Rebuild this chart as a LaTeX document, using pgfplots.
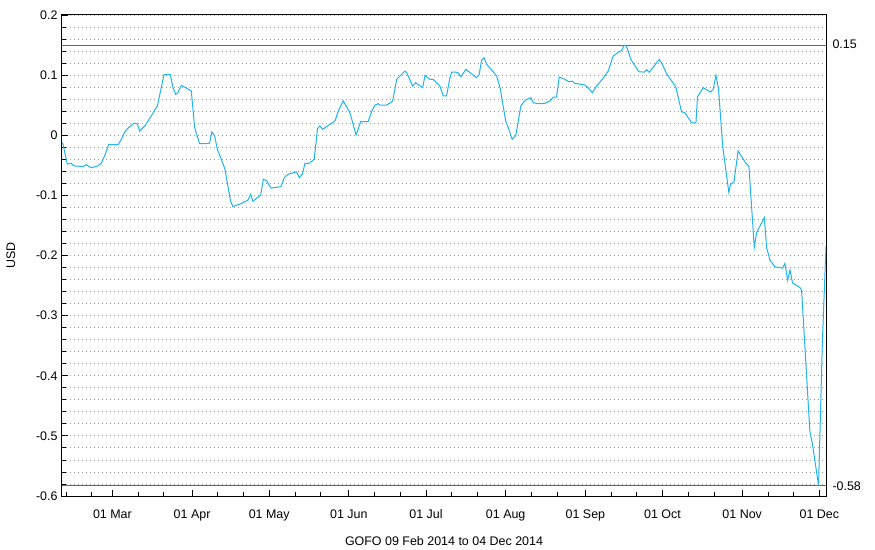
\documentclass[border=0pt]{standalone}
\usepackage{pgfplots}
\pgfplotsset{compat=1.18}
\usepackage{fontspec}
\setmainfont{Liberation Sans}
\definecolor{lineblue}{RGB}{30,180,240}
\definecolor{refpurple}{RGB}{140,70,165}
\begin{document}
\begin{tikzpicture}
\useasboundingbox (-62bp,-54bp) rectangle (813bp,496bp);
\begin{axis}[
  at={(0,0)}, anchor=south west,
  scale only axis, width=764bp, height=481bp,
  xmin=0.4, xmax=297.6, ymin=-0.6, ymax=0.2,
  font=\fontsize{12.5}{14}\selectfont,
  axis line style={line width=1bp},
  tick pos=left, tick align=inside,
  major tick length=6bp, minor tick length=4bp,
  tick style={black, line width=0.8bp},
  xtick={20,51,81,112,142,173,204,234,265,295},
  xticklabels={01 Mar,01 Apr,01 May,01 Jun,01 Jul,01 Aug,01 Sep,01 Oct,01 Nov,01 Dec},
  minor xtick={2,12,30,40,61,71,91,101,122,132,152,162,183,193,214,224,244,254,275,285},
  ytick={-0.6,-0.5,-0.4,-0.3,-0.2,-0.1,0,0.1,0.2},
  yticklabels={-0.6,-0.5,-0.4,-0.3,-0.2,-0.1,0,0.1,0.2},
  minor ytick={-0.58,-0.56,-0.54,-0.52,-0.48,-0.46,-0.44,-0.42,-0.38,-0.36,-0.34,-0.32,-0.28,-0.26,-0.24,-0.22,-0.18,-0.16,-0.14,-0.12,-0.08,-0.06,-0.04,-0.02,0.02,0.04,0.06,0.08,0.12,0.14,0.16,0.18},
  ymajorgrids, yminorgrids,
  major grid style={gray!80, line width=0.8bp, dash pattern=on 1bp off 3bp},
  minor grid style={gray!80, line width=0.8bp, dash pattern=on 1bp off 3bp},
  xticklabel style={yshift=-10bp},
  yticklabel style={xshift=-1bp},
  xlabel={GOFO 09 Feb 2014 to 04 Dec 2014},
  xlabel style={yshift=-9bp},
  ylabel={USD},
  ylabel style={yshift=14bp},
  clip mode=individual,
]
\addplot[refpurple, line width=1bp] coordinates {(0.4,0.15) (297.6,0.15)};
\addplot[refpurple, line width=1bp] coordinates {(0.4,-0.5826) (297.6,-0.5826)};
\addplot[lineblue, line width=1bp] coordinates {
(0.4,-0.012) (0.8,-0.015) (2.45,-0.048) (3.8,-0.0465) (5.1,-0.051) (8.6,-0.052) (9.8,-0.049)
(11.8,-0.054) (14.4,-0.051) (15.7,-0.0465) (17.0,-0.034) (18.6,-0.015) (20.2,-0.015)
(22.2,-0.016) (23.5,-0.0066) (24.8,0.0055) (26.1,0.012) (28.4,0.020) (29.7,0.019)
(30.6,0.007) (32.8,0.0166) (35.1,0.032) (37.5,0.0487) (40.1,0.101) (42.5,0.101)
(43.6,0.079) (44.6,0.068) (45.5,0.0708) (46.8,0.083) (48.7,0.0786) (50.7,0.0736)
(52.0,0.0126) (53.9,-0.014) (55.9,-0.014) (57.8,-0.0133) (58.7,0.0055) (59.8,-0.0012)
(60.8,-0.023) (63.7,-0.055) (66.0,-0.110) (66.9,-0.1186) (70.1,-0.1136) (72.7,-0.108)
(73.8,-0.098) (74.7,-0.110) (76.35,-0.1037) (77.7,-0.0997) (78.7,-0.073) (80.0,-0.076)
(81.7,-0.088) (85.6,-0.0854) (86.9,-0.0704) (88.4,-0.0648) (91.7,-0.061) (92.7,-0.0704)
(93.9,-0.0648) (94.9,-0.047) (96.6,-0.0465) (98.5,-0.040) (99.8,0.011) (100.7,0.0154)
(101.8,0.010) (104.6,0.018) (106.6,0.0238) (107.9,0.0404) (109.8,0.057) (112.4,0.0375)
(114.8,0.0005) (116.6,0.0226) (119.5,0.0226) (120.9,0.040) (122.1,0.050) (123.4,0.0525)
(124.1,0.050) (126.7,0.050) (129.0,0.0565) (130.6,0.093) (133.8,0.1068) (134.5,0.104)
(136.8,0.082) (138.0,0.0874) (140.7,0.079) (141.6,0.0997) (143.5,0.093) (144.8,0.093)
(147.4,0.082) (148.7,0.0653) (150.0,0.0653) (151.3,0.0957) (152.0,0.105) (154.3,0.1047)
(155.6,0.0973) (157.5,0.1096) (159.7,0.1023) (161.7,0.0957) (162.7,0.1013) (163.6,0.1246)
(164.6,0.129) (165.6,0.118) (168.1,0.1056) (169.5,0.0985) (170.8,0.079) (173.0,0.0238)
(174.2,0.010) (175.5,-0.0066) (176.9,-0.001) (178.9,0.0487) (180.5,0.058) (182.8,0.0625)
(183.7,0.054) (185.7,0.0525) (188.2,0.053) (190.2,0.057) (191.5,0.0636) (192.8,0.0636)
(193.8,0.0968) (196.0,0.093) (197.6,0.089) (198.9,0.090) (199.9,0.0864) (203.8,0.0836)
(205.1,0.079) (206.7,0.0708) (208.4,0.082) (210.9,0.0947) (212.9,0.107) (214.8,0.1317)
(216.8,0.138) (218.1,0.141) (219.1,0.150) (220.0,0.148) (221.7,0.126) (224.8,0.1056)
(226.9,0.105) (227.8,0.109) (228.8,0.1047) (231.0,0.1168) (232.7,0.126) (233.6,0.1206)
(235.6,0.1023) (239.2,0.080) (241.4,0.039) (242.7,0.0375) (245.3,0.0209) (247.0,0.0204)
(247.6,0.064) (249.8,0.079) (250.9,0.0764) (252.7,0.0719) (253.7,0.0764) (254.8,0.0997)
(255.8,0.0764) (257.4,-0.0178) (259.8,-0.0953) (260.5,-0.0814) (261.8,-0.0776)
(263.4,-0.026) (266.4,-0.0465) (267.6,-0.051) (269.7,-0.1864) (270.6,-0.1618)
(273.6,-0.1369) (274.5,-0.1867) (275.8,-0.2076) (277.7,-0.2188) (280.7,-0.221)
(281.6,-0.2133) (282.7,-0.241) (283.6,-0.2243) (284.6,-0.2458) (287.4,-0.253)
(288.1,-0.2575) (291.3,-0.4912) (292.4,-0.516) (294.7,-0.5826) (296.2,-0.3417)
(297.6,-0.185)
};
\node[anchor=west, font=\fontsize{12.5}{14}\selectfont] at (axis cs:297.6,0.152) {\hspace{3bp}0.15};
\node[anchor=west, font=\fontsize{12.5}{14}\selectfont] at (axis cs:297.6,-0.583) {\hspace{3bp}-0.58};
\end{axis}
\end{tikzpicture}
\end{document}
